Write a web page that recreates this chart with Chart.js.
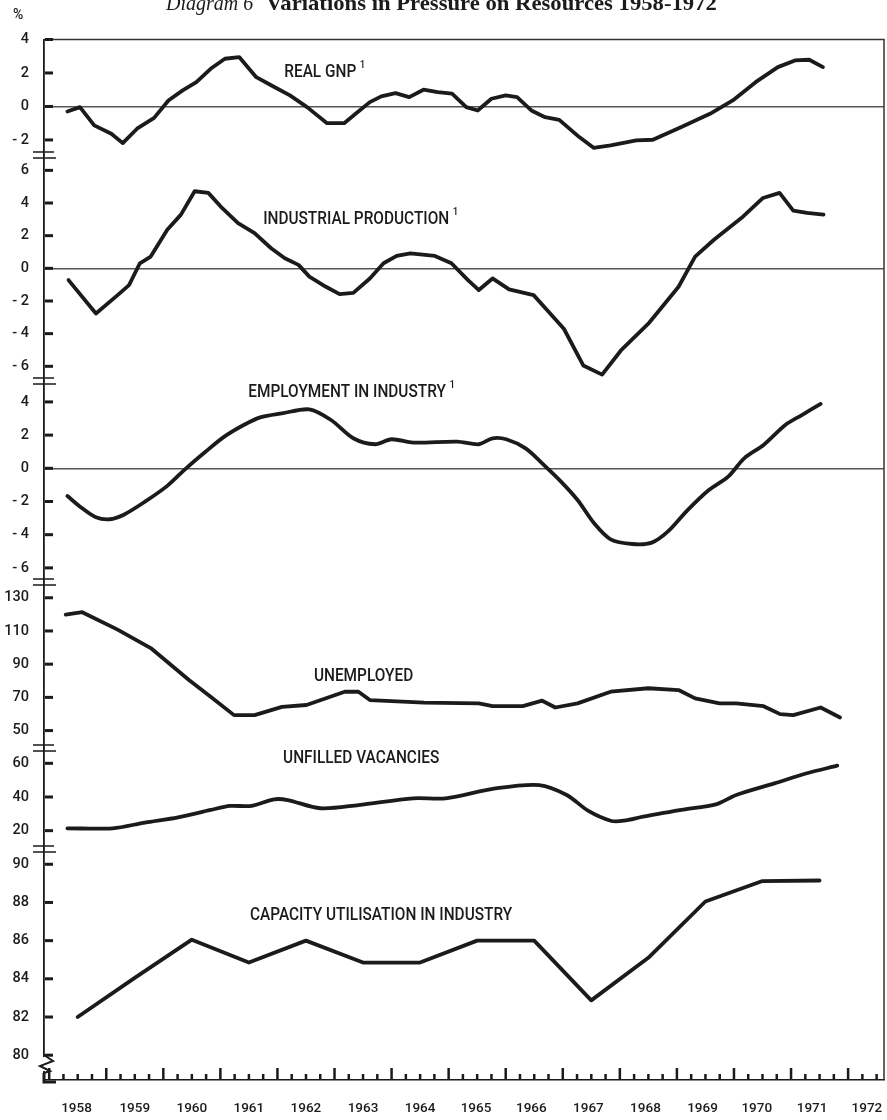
<!DOCTYPE html>
<html>
<head>
<meta charset="utf-8">
<script src="https://cdn.jsdelivr.net/npm/chart.js@4.4.1/dist/chart.umd.min.js"></script>
<style>
  html, body { margin: 0; padding: 0; background: #fff; }
  canvas { display: block; }
</style>
</head>
<body>
<canvas id="chart" width="887" height="1120"></canvas>
<script>
// dates are decimal years
const gnpDates = [1958.32, 1958.54, 1958.79, 1959.09, 1959.29, 1959.54, 1959.84, 1960.09, 1960.34, 1960.58, 1960.83, 1961.08, 1961.33, 1961.63, 1961.93, 1962.22, 1962.52, 1962.87, 1963.17, 1963.37, 1963.62, 1963.82, 1964.07, 1964.31, 1964.56, 1964.81, 1965.06, 1965.31, 1965.51, 1965.75, 1966.0, 1966.2, 1966.45, 1966.69, 1966.94, 1967.29, 1967.54, 1967.84, 1968.29, 1968.58, 1969.08, 1969.58, 1969.98, 1970.38, 1970.77, 1971.07, 1971.32, 1971.56];
const gnpValues = [-0.3, -0.04, -1.13, -1.63, -2.19, -1.33, -0.68, 0.36, 0.96, 1.45, 2.25, 2.85, 2.95, 1.75, 1.19, 0.66, -0.04, -1.0, -1.0, -0.44, 0.26, 0.6, 0.8, 0.56, 1.0, 0.86, 0.76, -0.04, -0.24, 0.46, 0.66, 0.56, -0.24, -0.64, -0.8, -1.83, -2.47, -2.33, -2.03, -1.99, -1.23, -0.44, 0.36, 1.45, 2.35, 2.75, 2.79, 2.35];

const ipDates = [1958.34, 1958.82, 1959.2, 1959.4, 1959.59, 1959.78, 1960.07, 1960.31, 1960.55, 1960.79, 1961.03, 1961.31, 1961.6, 1961.89, 1962.13, 1962.37, 1962.56, 1962.85, 1963.09, 1963.33, 1963.62, 1963.86, 1964.09, 1964.33, 1964.76, 1965.05, 1965.34, 1965.53, 1965.77, 1966.06, 1966.49, 1966.78, 1967.02, 1967.36, 1967.69, 1968.02, 1968.5, 1969.03, 1969.32, 1969.65, 1970.13, 1970.51, 1970.8, 1971.04, 1971.28, 1971.57];
const ipValues = [-0.72, -2.77, -1.64, -1.03, 0.31, 0.72, 2.36, 3.29, 4.72, 4.62, 3.7, 2.77, 2.16, 1.23, 0.62, 0.21, -0.51, -1.13, -1.58, -1.5, -0.62, 0.31, 0.76, 0.92, 0.76, 0.31, -0.72, -1.33, -0.62, -1.29, -1.64, -2.77, -3.7, -5.95, -6.51, -5.03, -3.39, -1.13, 0.72, 1.75, 3.08, 4.31, 4.62, 3.53, 3.39, 3.29];

const empDates = [1958.32, 1958.58, 1958.82, 1959.06, 1959.3, 1959.68, 1960.07, 1960.4, 1960.74, 1961.07, 1961.41, 1961.7, 1962.08, 1962.56, 1962.94, 1963.33, 1963.71, 1964.0, 1964.38, 1965.15, 1965.53, 1965.77, 1966.01, 1966.35, 1966.64, 1966.97, 1967.26, 1967.55, 1967.84, 1968.22, 1968.56, 1968.84, 1969.18, 1969.56, 1969.9, 1970.18, 1970.52, 1970.9, 1971.19, 1971.52];
const empValues = [-1.67, -2.41, -2.95, -3.07, -2.81, -2.01, -1.06, 0.0, 1.0, 1.91, 2.61, 3.07, 3.31, 3.55, 2.91, 1.81, 1.45, 1.75, 1.55, 1.61, 1.45, 1.81, 1.75, 1.2, 0.3, -0.8, -1.91, -3.31, -4.28, -4.56, -4.48, -3.82, -2.55, -1.31, -0.5, 0.6, 1.41, 2.61, 3.21, 3.88];

const unempDates = [1958.29, 1958.58, 1959.2, 1959.78, 1960.45, 1960.83, 1961.24, 1961.6, 1962.08, 1962.51, 1963.18, 1963.42, 1963.62, 1964.57, 1965.53, 1965.77, 1966.3, 1966.64, 1966.87, 1967.26, 1967.84, 1968.5, 1969.03, 1969.32, 1969.75, 1970.04, 1970.52, 1970.81, 1971.04, 1971.52, 1971.86];
const unempValues = [119.9, 121.3, 110.8, 99.7, 80.5, 70.4, 59.3, 59.3, 64.3, 65.4, 73.4, 73.4, 68.4, 66.8, 66.4, 64.7, 64.7, 68.0, 63.9, 66.4, 73.4, 75.5, 74.4, 69.4, 66.4, 66.4, 64.7, 59.9, 59.3, 63.9, 57.9];

const vacDates = [1958.32, 1959.11, 1959.68, 1960.26, 1960.83, 1961.17, 1961.55, 1961.94, 1962.18, 1962.75, 1963.42, 1964.38, 1964.95, 1965.82, 1966.59, 1967.07, 1967.45, 1967.84, 1968.07, 1968.41, 1969.08, 1969.7, 1970.04, 1970.71, 1971.28, 1971.81];
const vacValues = [21.4, 21.4, 24.8, 27.9, 32.3, 34.7, 34.7, 38.6, 38.2, 33.3, 35.2, 39.2, 39.2, 45.1, 47.1, 41.2, 31.7, 25.9, 25.9, 28.3, 32.3, 35.8, 41.2, 48.1, 54.1, 58.6];

// annual figures, plotted at mid-year
const capYears = [1958.5, 1959.5, 1960.5, 1961.5, 1962.5, 1963.5, 1964.5, 1965.5, 1966.5, 1967.5, 1968.5, 1969.5, 1970.5, 1971.5];
const capValues = [82.0, 84.05, 86.05, 84.85, 86.0, 84.85, 84.85, 86.0, 86.0, 82.87, 85.1, 88.05, 89.12, 89.15];

const gnpTicks = [4, 2, 0, -2];
const ipTicks = [6, 4, 2, 0, -2, -4, -6];
const empTicks = [4, 2, 0, -2, -4, -6];
const unempTicks = [130, 110, 90, 70, 50];
const vacTicks = [60, 40, 20];
const capTicks = [90, 88, 86, 84, 82, 80];

const yearLabels = ['1958', '1959', '1960', '1961', '1962', '1963', '1964', '1965', '1966', '1967', '1968', '1969', '1970', '1971', '1972'];
const yearLabelAt = [1958.48, 1959.5, 1960.5, 1961.5, 1962.5, 1963.5, 1964.5, 1965.48, 1966.45, 1967.45, 1968.45, 1969.45, 1970.4, 1971.37, 1972.33];

const panelLabels = ['REAL GNP', 'INDUSTRIAL PRODUCTION', 'EMPLOYMENT IN INDUSTRY', 'UNEMPLOYED', 'UNFILLED VACANCIES', 'CAPACITY UTILISATION IN INDUSTRY'];
const panelNotes = ['1', '1', '1', '', '', ''];
const panelLabelYear = [1962.12, 1961.75, 1961.49, 1962.64, 1962.1, 1961.52];
const panelLabelValue = [2.0, 2.96, 4.54, 82.4, 63.0, 87.3];

const INK = '#1b1b1b';
const FONT = 'Roboto, "DejaVu Sans", sans-serif';
const axisIds = ['yGnp', 'yIp', 'yEmp', 'yUnemp', 'yVac', 'yCap'];

function series(dates, values, axis, smooth) {
  return {
    data: dates.map((d, i) => ({ x: d, y: values[i] })),
    yAxisID: axis,
    borderColor: INK,
    borderWidth: 3.8,
    pointRadius: 0,
    tension: smooth ? 0.3 : 0,
    borderJoinStyle: 'round',
    borderCapStyle: 'round',
    fill: false,
    clip: false
  };
}

function panelAxis(min, max, ticks, order, height, zeroLine) {
  return {
    type: 'linear',
    position: 'left',
    stack: 'panels',
    stackWeight: height,
    weight: order,
    min: min,
    max: max,
    afterBuildTicks: function(scale) {
      scale.ticks = ticks.map(v => ({ value: v }));
    },
    afterFit: function(scale) {
      scale.width = 44;
    },
    border: { display: true, color: INK, width: 1.8 },
    grid: {
      display: zeroLine,
      drawTicks: false,
      lineWidth: 1.4,
      color: c => (c.tick && c.tick.value === 0 ? '#555' : 'rgba(0,0,0,0)')
    },
    ticks: {
      autoSkip: false,
      padding: 15,
      color: INK,
      font: { family: FONT, size: 14.5, weight: '500' },
      callback: v => (v < 0 ? '- ' + Math.abs(v) : String(v))
    }
  };
}

// frame, inner tick marks, axis breaks, title and the curve names
const decorations = {
  id: 'decorations',
  afterDraw(chart) {
    const { ctx, chartArea: ca, scales } = chart;
    ctx.save();

    ctx.strokeStyle = '#333';
    ctx.lineWidth = 1.5;
    ctx.beginPath();
    ctx.moveTo(ca.left, ca.top);
    ctx.lineTo(ca.right, ca.top);
    ctx.lineTo(ca.right, ca.bottom);
    ctx.stroke();

    ctx.fillStyle = INK;
    axisIds.forEach(id => {
      const s = scales[id];
      s.ticks.forEach(t => {
        const y = s.getPixelForValue(t.value);
        ctx.fillRect(s.right + 1, y - 1.5, 8, 3);
      });
    });

    // double strokes where the vertical scale is broken
    ctx.strokeStyle = INK;
    ctx.lineWidth = 1.4;
    for (let i = 0; i < axisIds.length - 1; i++) {
      const b = scales[axisIds[i]].bottom;
      ctx.beginPath();
      ctx.moveTo(33, b - 3); ctx.lineTo(54, b - 3);
      ctx.moveTo(33, b + 3); ctx.lineTo(56, b + 3);
      ctx.stroke();
    }

    // quarter ticks on the time axis, longer at the turn of each year
    const xs = scales.x;
    for (let q = 1958; q <= 1972.5; q += 0.25) {
      const x = xs.getPixelForValue(q);
      const h = Number.isInteger(q) ? 12 : 6;
      ctx.fillRect(x - 1.2, ca.bottom - h, 2.5, h);
    }

    // zig-zag break at the foot of the vertical axis
    ctx.fillStyle = '#fff';
    ctx.fillRect(38, 1057, 10, 14);
    ctx.strokeStyle = INK;
    ctx.lineWidth = 2;
    ctx.beginPath();
    ctx.moveTo(44, 1055);
    ctx.lineTo(53, 1061);
    ctx.lineTo(40, 1066);
    ctx.lineTo(50, 1071);
    ctx.lineTo(44, 1073);
    ctx.stroke();
    ctx.lineWidth = 3;
    ctx.beginPath();
    ctx.moveTo(44, 1073);
    ctx.lineTo(44, 1082);
    ctx.lineTo(56, 1082);
    ctx.stroke();

    ctx.fillStyle = INK;
    ctx.font = '500 14px ' + FONT;
    ctx.textAlign = 'left';
    ctx.textBaseline = 'middle';
    ctx.fillText('%', 13, 15);

    // title, cut by the top edge as in the scan
    ctx.textBaseline = 'alphabetic';
    ctx.save();
    ctx.translate(166, 10);
    ctx.font = 'italic 20px "Liberation Serif", serif';
    ctx.fillText('Diagram 6', 0, 0);
    ctx.restore();
    ctx.save();
    ctx.translate(266, 10);
    ctx.scale(1.08, 1);
    ctx.font = 'bold 21px "Liberation Serif", serif';
    ctx.fillText('Variations in Pressure on Resources 1958-1972', 0, 0);
    ctx.restore();

    ctx.textBaseline = 'middle';
    panelLabels.forEach((text, i) => {
      const x = xs.getPixelForValue(panelLabelYear[i]);
      const y = scales[axisIds[i]].getPixelForValue(panelLabelValue[i]);
      ctx.save();
      ctx.translate(x, y);
      ctx.scale(0.88, 1);
      ctx.font = '500 17.5px ' + FONT;
      ctx.fillText(text, 0, 0);
      if (panelNotes[i]) {
        const w = ctx.measureText(text).width;
        ctx.font = '500 11px ' + FONT;
        ctx.fillText(panelNotes[i], w + 4, -8);
      }
      ctx.restore();
    });

    ctx.restore();
  }
};

new Chart(document.getElementById('chart'), {
  type: 'line',
  data: {
    datasets: [
      series(gnpDates, gnpValues, 'yGnp', false),
      series(ipDates, ipValues, 'yIp', false),
      series(empDates, empValues, 'yEmp', true),
      series(unempDates, unempValues, 'yUnemp', false),
      series(vacDates, vacValues, 'yVac', true),
      series(capYears, capValues, 'yCap', false)
    ]
  },
  options: {
    responsive: false,
    animation: false,
    layout: { padding: { top: 39.5, right: 3, left: 0, bottom: 0 } },
    plugins: {
      legend: { display: false },
      tooltip: { enabled: false }
    },
    scales: {
      x: {
        type: 'linear',
        min: 1957.91,
        max: 1972.63,
        afterBuildTicks: function(scale) {
          scale.ticks = yearLabelAt.map(v => ({ value: v }));
        },
        afterFit: function(scale) {
          scale.height = 40;
          scale.paddingLeft = 0;
          scale.paddingRight = 0;
        },
        border: { display: true, color: INK, width: 1.5 },
        grid: { display: false, drawTicks: false },
        ticks: {
          autoSkip: false,
          maxRotation: 0,
          padding: 21,
          color: INK,
          font: { family: FONT, size: 13.5, weight: '500' },
          callback: (v, i) => yearLabels[i]
        }
      },
      yGnp: panelAxis(-2.9, 4, gnpTicks, 6, 115.5, true),
      yIp: panelAxis(-6.9, 6.94, ipTicks, 5, 226, true),
      yEmp: panelAxis(-6.85, 5.26, empTicks, 4, 201, true),
      yUnemp: panelAxis(39.5, 139.5, unempTicks, 3, 166, false),
      yVac: panelAxis(9.1, 69.1, vacTicks, 2, 101, false),
      yCap: panelAxis(78.7, 90.8, capTicks, 1, 231, false)
    }
  },
  plugins: [decorations]
});
</script>
</body>
</html>
